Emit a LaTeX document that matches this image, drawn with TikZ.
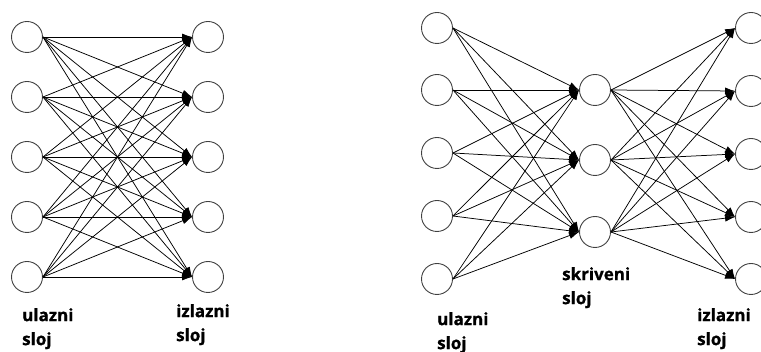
\documentclass[tikz,border=0pt]{standalone}
\usepackage{fontspec}
\setmainfont{Open Sans}[BoldFeatures={FakeBold=0.8}]
\usetikzlibrary{arrows.meta}
\tikzset{
  neuron/.style={draw=black!75,line width=0.9pt,circle,inner sep=0pt,minimum size=31pt},
  veza/.style={black,line width=0.75pt,-{Latex[length=10pt,width=7pt]}},
  natpis/.style={anchor=north west,inner sep=0pt,align=left,font=\bfseries\fontsize{17}{24}\selectfont}
}
\begin{document}
\begin{tikzpicture}[x=1pt,y=-1pt]
        \useasboundingbox (0,0) rectangle (761,352);
        % mreža bez skrivenog sloja
        \node[neuron] (a1) at (27,37) {};
        \node[neuron] (a2) at (27,97) {};
        \node[neuron] (a3) at (27,157) {};
        \node[neuron] (a4) at (27,217) {};
        \node[neuron] (a5) at (27,277) {};

        \node[neuron] (b1) at (208,37) {};
        \node[neuron] (b2) at (208,97) {};
        \node[neuron] (b3) at (208,157) {};
        \node[neuron] (b4) at (208,217) {};
        \node[neuron] (b5) at (208,277) {};

        \draw[veza] (a1.east) -- (b1.west);
        \draw[veza] (a1.east) -- (b2.west);
        \draw[veza] (a1.east) -- (b3.west);
        \draw[veza] (a1.east) -- (b4.west);
        \draw[veza] (a1.east) -- (b5.west);
        \draw[veza] (a2.east) -- (b1.west);
        \draw[veza] (a2.east) -- (b2.west);
        \draw[veza] (a2.east) -- (b3.west);
        \draw[veza] (a2.east) -- (b4.west);
        \draw[veza] (a2.east) -- (b5.west);
        \draw[veza] (a3.east) -- (b1.west);
        \draw[veza] (a3.east) -- (b2.west);
        \draw[veza] (a3.east) -- (b3.west);
        \draw[veza] (a3.east) -- (b4.west);
        \draw[veza] (a3.east) -- (b5.west);
        \draw[veza] (a4.east) -- (b1.west);
        \draw[veza] (a4.east) -- (b2.west);
        \draw[veza] (a4.east) -- (b3.west);
        \draw[veza] (a4.east) -- (b4.west);
        \draw[veza] (a4.east) -- (b5.west);
        \draw[veza] (a5.east) -- (b1.west);
        \draw[veza] (a5.east) -- (b2.west);
        \draw[veza] (a5.east) -- (b3.west);
        \draw[veza] (a5.east) -- (b4.west);
        \draw[veza] (a5.east) -- (b5.west);

        \node[natpis] (ul1) at (22,308) {ulazni\\sloj};
        \node[natpis] (iz1) at (176,304) {izlazni\\sloj};

        % mreža sa skrivenim slojem
        \node[neuron] (c1) at (437,28) {};
        \node[neuron] (c2) at (437,90) {};
        \node[neuron] (c3) at (437,153) {};
        \node[neuron] (c4) at (437,216) {};
        \node[neuron] (c5) at (437,279) {};

        \node[neuron] (h1) at (595,90) {};
        \node[neuron] (h2) at (595,160) {};
        \node[neuron] (h3) at (595,232) {};

        \node[neuron] (d1) at (751,28) {};
        \node[neuron] (d2) at (751,91) {};
        \node[neuron] (d3) at (751,154) {};
        \node[neuron] (d4) at (751,217) {};
        \node[neuron] (d5) at (751,279) {};

        \draw[veza] (c1.east) -- (h1.west);
        \draw[veza] (c1.east) -- (h2.west);
        \draw[veza] (c1.east) -- (h3.west);
        \draw[veza] (c2.east) -- (h1.west);
        \draw[veza] (c2.east) -- (h2.west);
        \draw[veza] (c2.east) -- (h3.west);
        \draw[veza] (c3.east) -- (h1.west);
        \draw[veza] (c3.east) -- (h2.west);
        \draw[veza] (c3.east) -- (h3.west);
        \draw[veza] (c4.east) -- (h1.west);
        \draw[veza] (c4.east) -- (h2.west);
        \draw[veza] (c4.east) -- (h3.west);
        \draw[veza] (c5.east) -- (h1.west);
        \draw[veza] (c5.east) -- (h2.west);
        \draw[veza] (c5.east) -- (h3.west);

        \draw[veza] (h1.east) -- (d1.west);
        \draw[veza] (h1.east) -- (d2.west);
        \draw[veza] (h1.east) -- (d3.west);
        \draw[veza] (h1.east) -- (d4.west);
        \draw[veza] (h1.east) -- (d5.west);
        \draw[veza] (h2.east) -- (d1.west);
        \draw[veza] (h2.east) -- (d2.west);
        \draw[veza] (h2.east) -- (d3.west);
        \draw[veza] (h2.east) -- (d4.west);
        \draw[veza] (h2.east) -- (d5.west);
        \draw[veza] (h3.east) -- (d1.west);
        \draw[veza] (h3.east) -- (d2.west);
        \draw[veza] (h3.east) -- (d3.west);
        \draw[veza] (h3.east) -- (d4.west);
        \draw[veza] (h3.east) -- (d5.west);

        \node[natpis] (sk) at (562,267) {skriveni\\sloj};
        \node[natpis] (ul2) at (437,312) {ulazni\\sloj};
        \node[natpis] (iz2) at (697,308) {izlazni\\sloj};
    \end{tikzpicture}
\end{document}
